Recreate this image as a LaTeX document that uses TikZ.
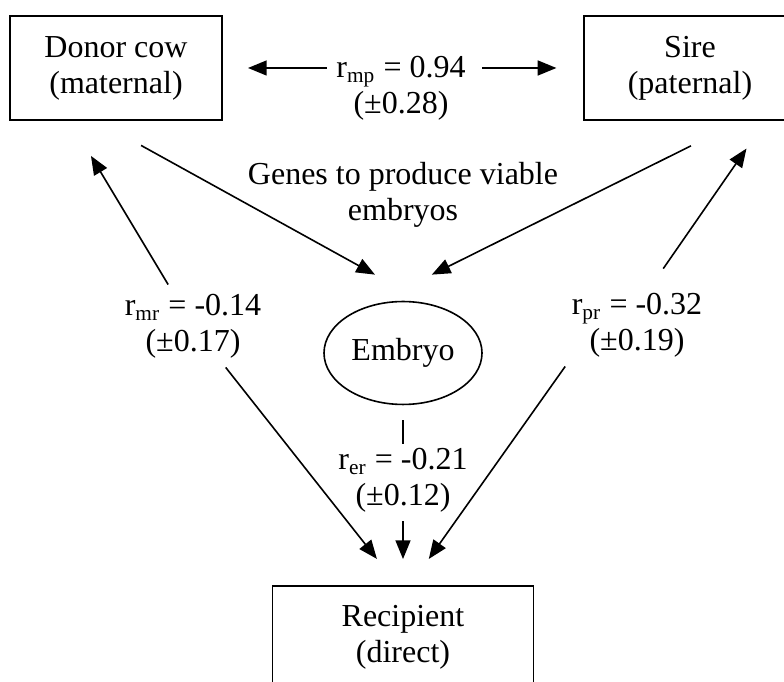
\documentclass[tikz,border=0pt]{standalone}
\usepackage{fontspec}
\setmainfont{Liberation Serif}
\usepackage{tikz}
\usetikzlibrary{arrows.meta,shapes.geometric}
\newcommand{\corr}[3]{r\textsubscript{#1} = #2\\(±#3)}

\begin{document}
\begin{tikzpicture}[x=3.75pt, y=-3.75pt,
    font=\fontsize{12}{13.5}\selectfont,
    box/.style={draw, line width=0.7pt, align=center, minimum width=79.5pt, minimum height=39pt},
    lbl/.style={align=center},
    arr/.style={line width=0.6pt, -{Triangle[length=7pt, width=5.6pt]}}]

      \useasboundingbox (0,0) rectangle (78.4,68.2);

      \node[box] (donor) at (11.6,6.8) {Donor cow\\(maternal)};
      \node[box] (sire) at (69.0,6.8) {Sire\\(paternal)};
      \node[box, minimum width=97.9pt, minimum height=38.25pt] (recip) at (40.3,63.7) {Recipient\\(direct)};
      \node[draw, ellipse, line width=0.6pt, minimum width=59.25pt, minimum height=38.6pt, inner sep=0pt] (embryo) at (40.3,35.3) {Embryo};

      \node[lbl] (rmp) at (40.1,8.8) {\corr{mp}{0.94}{0.28}};
      \node[lbl] (genes) at (40.3,19.5) {Genes to produce viable\\embryos};
      \node[lbl] (rmr) at (19.3,32.6) {\corr{mr}{-0.14}{0.17}};
      \node[lbl] (rpr) at (63.7,32.5) {\corr{pr}{-0.32}{0.19}};
      \node[lbl] (rer) at (40.3,48.0) {\corr{er}{-0.21}{0.12}};

      \draw[arr, shorten >=9.4pt] (rmp.west |- donor) -- (donor);
      \draw[arr, shorten <=2.6pt, shorten >=10pt] (rmp.east |- sire) -- (sire);

      \draw[arr, shorten <=19pt, shorten >=22pt] (donor.-110) -- (embryo.65);
      \draw[arr, shorten <=21pt, shorten >=26pt] (sire.-46) -- (embryo.125);

      \draw[arr, shorten >=15.3pt] (rmr) -- (donor.-131);
      \draw[arr, shorten >=12.5pt] (rmr) -- (recip.96);
      \draw[arr, shorten <=6.8pt, shorten >=12.6pt] (rpr.69) -- (sire.-35);
      \draw[arr, shorten >=12pt] (rpr.-150) -- (recip.82);

      \draw[line width=0.6pt, shorten <=5.6pt, shorten >=-1.9pt] (embryo) -- (rer);
      \draw[arr, shorten >=9.75pt] (rer) -- (recip);
    \end{tikzpicture}
\end{document}
